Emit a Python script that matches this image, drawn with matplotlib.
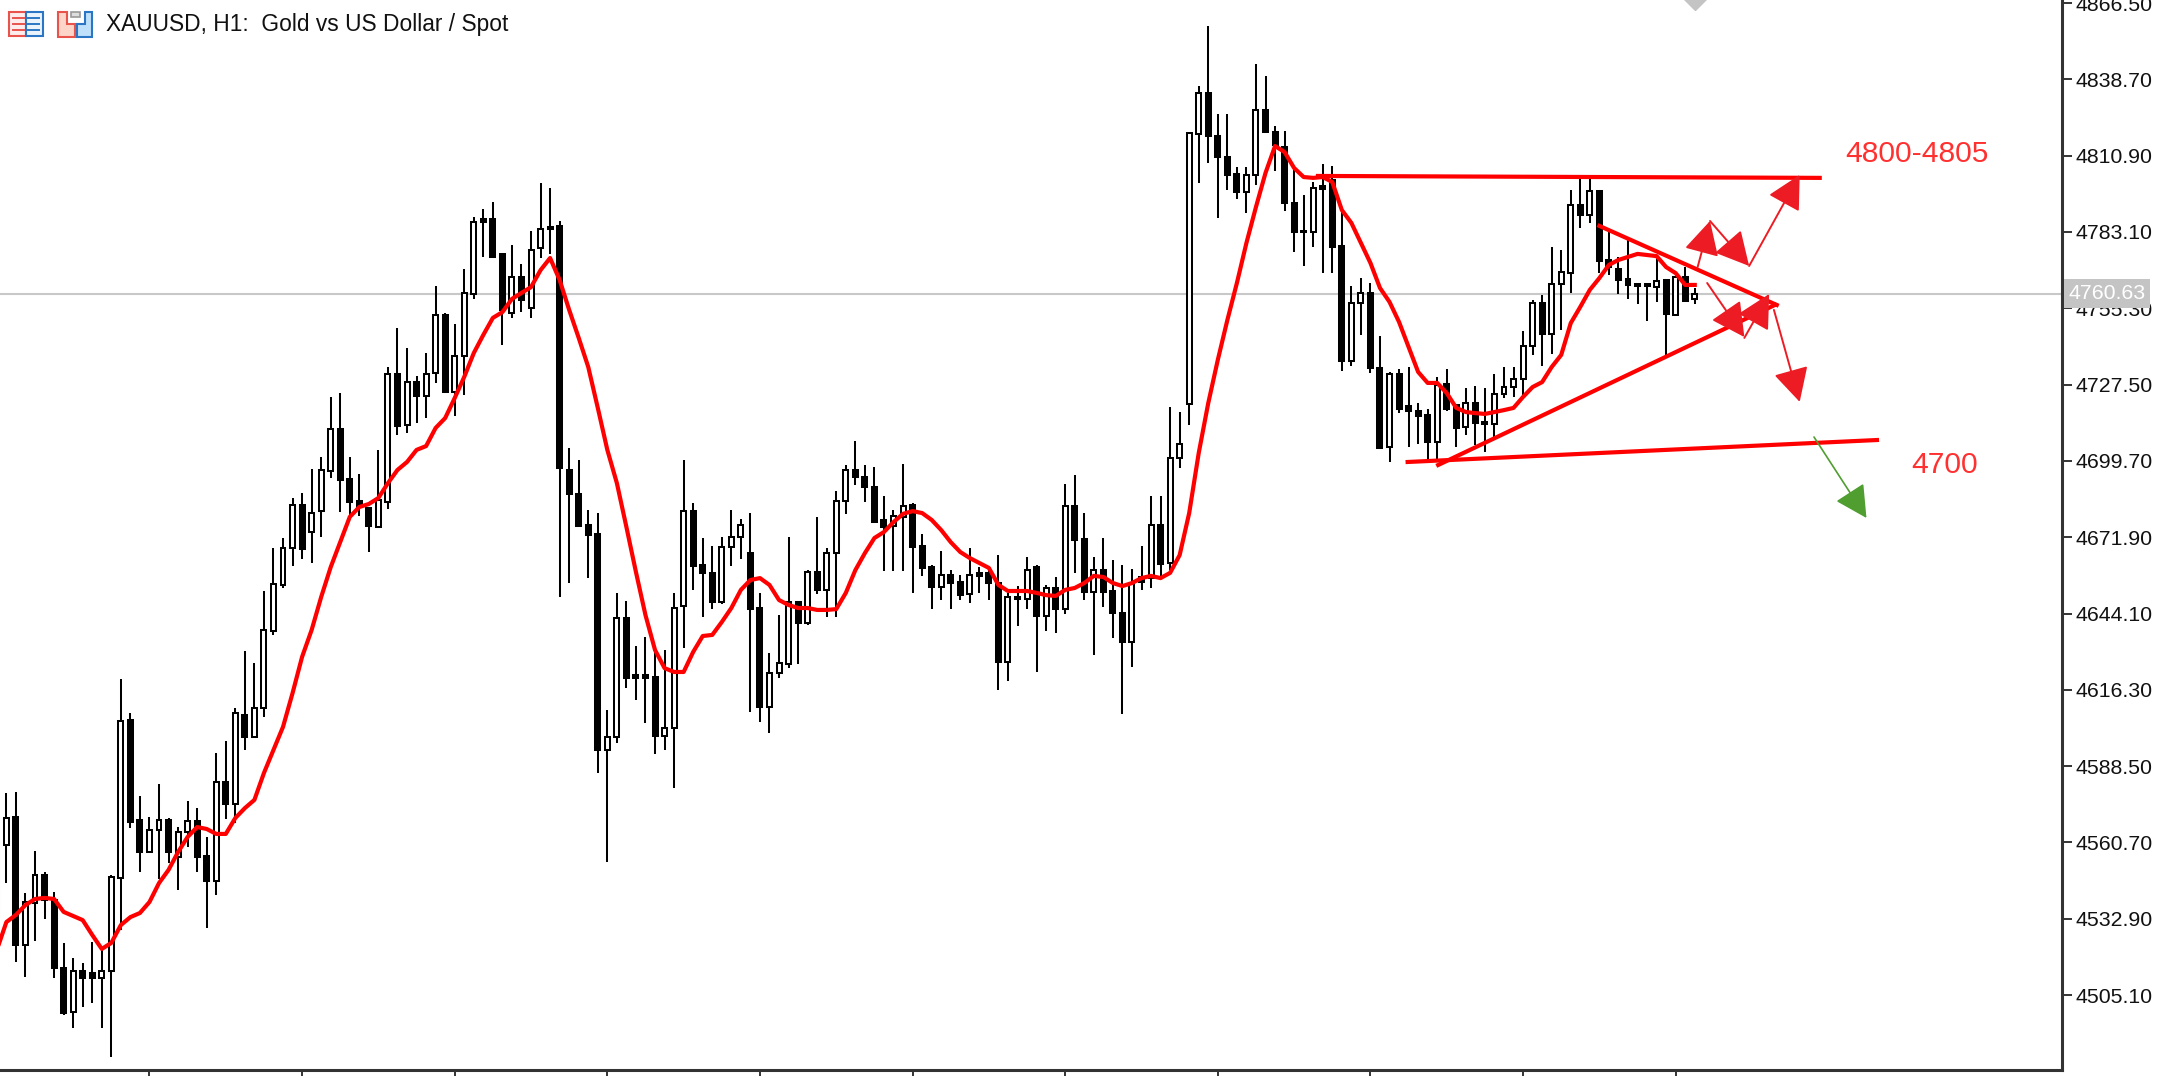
import numpy as np
import matplotlib
matplotlib.use("Agg")
import matplotlib.pyplot as plt
from matplotlib.patches import Rectangle, Polygon

plt.rcParams['font.family'] = ['Liberation Sans', 'DejaVu Sans']

# XAUUSD H1 candles; first candle is mostly past the left edge
opens = [4533.5,
         4559.8, 4570.0, 4523.3, 4538.6, 4548.8, 4539.7, 4515.0, 4499.0, 4513.9, 4513.1,
         4511.3, 4513.9, 4547.7, 4605.3, 4568.9, 4557.2, 4565.2, 4568.9, 4555.4, 4564.5,
         4568.5, 4555.8, 4546.7, 4582.7, 4574.7, 4607.1, 4599.1, 4609.7, 4637.7, 4654.5,
         4668.0, 4683.6, 4673.8, 4681.4, 4696.0, 4711.3, 4693.1, 4685.1, 4682.5, 4675.6,
         4684.7, 4731.4, 4712.8, 4728.4, 4723.3, 4731.7, 4752.8, 4724.8, 4737.9, 4760.5,
         4787.8, 4787.8, 4775.1, 4753.6, 4766.7, 4755.4, 4777.2, 4784.9, 4785.3, 4696.4,
         4687.6, 4676.4, 4673.1, 4594.4, 4599.1, 4642.5, 4621.7, 4621.7, 4620.9, 4599.5,
         4602.4, 4646.8, 4681.4, 4661.8, 4658.9, 4648.3, 4668.3, 4672.0, 4666.1, 4646.1,
         4610.0, 4622.4, 4625.7, 4648.3, 4640.6, 4659.2, 4652.7, 4666.1, 4685.1, 4696.4,
         4693.8, 4690.2, 4678.2, 4676.0, 4679.3, 4683.6, 4668.7, 4661.0, 4653.8, 4658.1,
         4655.6, 4651.2, 4658.9, 4658.9, 4655.2, 4626.4, 4650.1, 4649.4, 4661.0, 4643.2,
         4653.4, 4645.7, 4683.3, 4671.2, 4651.9, 4659.9, 4652.3, 4644.3, 4633.7, 4657.4,
         4657.0, 4676.4, 4662.5, 4700.7, 4720.4, 4818.8, 4833.7, 4818.1, 4810.4, 4804.2,
         4797.7, 4803.9, 4827.5, 4819.5, 4814.0, 4793.6, 4783.4, 4783.1, 4799.8, 4802.0,
         4778.0, 4736.1, 4757.2, 4760.9, 4733.5, 4704.8, 4731.4, 4719.7, 4717.9, 4716.4,
         4706.6, 4727.7, 4720.1, 4712.0, 4720.8, 4713.9, 4713.1, 4724.1, 4726.6, 4729.5,
         4741.6, 4757.2, 4745.9, 4764.1, 4768.1, 4792.9, 4789.3, 4798.0, 4772.9, 4769.6,
         4766.0, 4764.1, 4764.1, 4763.0, 4765.6, 4752.8, 4766.7, 4758.7]

highs = [4560.5,
         4578.7, 4579.1, 4542.3, 4557.6, 4549.9, 4542.6, 4524.1, 4518.6, 4516.8, 4524.4,
         4522.6, 4548.8, 4620.2, 4607.9, 4577.6, 4570.0, 4582.0, 4569.6, 4566.3, 4575.8,
         4573.2, 4562.7, 4593.3, 4597.7, 4609.7, 4630.4, 4626.1, 4652.3, 4668.0, 4671.6,
         4686.2, 4688.0, 4696.7, 4701.1, 4723.0, 4724.4, 4701.1, 4694.9, 4682.5, 4703.7,
         4733.9, 4748.1, 4740.8, 4730.6, 4739.0, 4763.4, 4753.6, 4749.6, 4769.6, 4788.5,
         4791.5, 4794.0, 4775.4, 4778.4, 4771.4, 4783.4, 4800.9, 4799.1, 4787.1, 4704.4,
         4700.0, 4681.8, 4680.7, 4609.0, 4651.6, 4648.7, 4632.3, 4635.6, 4630.8, 4630.8,
         4651.6, 4700.0, 4684.4, 4671.6, 4668.7, 4672.0, 4681.8, 4678.5, 4680.7, 4651.6,
         4629.7, 4643.5, 4672.0, 4648.7, 4659.9, 4679.3, 4668.0, 4688.7, 4698.2, 4706.9,
         4698.2, 4697.5, 4686.9, 4681.8, 4698.6, 4684.4, 4673.1, 4661.8, 4666.9, 4659.9,
         4658.1, 4668.0, 4661.0, 4661.0, 4665.4, 4651.6, 4654.1, 4664.7, 4661.8, 4654.5,
         4657.4, 4691.3, 4694.6, 4680.7, 4664.7, 4671.6, 4663.6, 4661.8, 4660.3, 4668.7,
         4686.9, 4686.9, 4719.3, 4717.5, 4819.5, 4836.3, 4858.1, 4826.1, 4826.1, 4806.8,
         4806.8, 4844.3, 4839.9, 4821.7, 4819.9, 4806.4, 4796.6, 4801.3, 4807.9, 4807.1,
         4791.1, 4763.4, 4766.3, 4764.5, 4745.2, 4732.1, 4733.2, 4733.9, 4720.8, 4718.6,
         4730.3, 4733.2, 4720.1, 4726.3, 4727.0, 4726.3, 4731.4, 4733.9, 4733.9, 4747.0,
         4758.3, 4760.1, 4777.6, 4776.5, 4798.4, 4802.8, 4802.8, 4798.0, 4783.4, 4774.0,
         4780.2, 4764.1, 4764.1, 4773.6, 4766.0, 4767.1, 4770.3, 4762.7]

lows = [4533.2,
        4546.0, 4517.1, 4511.7, 4524.8, 4532.8, 4511.3, 4497.8, 4493.1, 4500.7, 4502.2,
        4493.1, 4482.5, 4528.8, 4566.0, 4549.9, 4556.9, 4547.4, 4553.2, 4543.4, 4559.0,
        4549.9, 4529.5, 4541.5, 4569.2, 4567.8, 4594.4, 4599.1, 4606.4, 4636.3, 4653.4,
        4661.4, 4664.0, 4662.5, 4672.0, 4693.5, 4681.1, 4679.6, 4679.6, 4666.5, 4675.2,
        4682.2, 4709.1, 4709.9, 4713.5, 4715.3, 4728.1, 4724.8, 4716.1, 4723.7, 4758.7,
        4774.0, 4773.6, 4741.9, 4751.8, 4753.9, 4751.8, 4773.6, 4775.1, 4650.1, 4655.2,
        4676.0, 4657.0, 4586.0, 4553.6, 4596.9, 4617.0, 4612.6, 4604.2, 4592.9, 4594.4,
        4580.5, 4631.5, 4652.7, 4642.8, 4645.7, 4647.6, 4661.4, 4664.0, 4608.2, 4604.6,
        4600.6, 4620.6, 4624.3, 4625.7, 4639.9, 4651.2, 4642.8, 4642.8, 4680.4, 4690.9,
        4684.7, 4677.1, 4659.6, 4659.6, 4659.6, 4651.6, 4657.8, 4645.7, 4649.0, 4645.7,
        4649.0, 4647.9, 4651.6, 4649.0, 4616.2, 4619.5, 4639.5, 4645.7, 4622.8, 4637.7,
        4637.0, 4643.9, 4658.9, 4649.0, 4629.0, 4646.5, 4635.2, 4607.5, 4624.6, 4652.7,
        4653.4, 4657.0, 4659.9, 4697.1, 4712.8, 4800.9, 4808.2, 4788.2, 4798.4, 4795.1,
        4790.0, 4800.2, 4819.1, 4805.3, 4790.7, 4775.8, 4770.7, 4777.6, 4768.1, 4768.1,
        4732.4, 4734.3, 4745.6, 4731.7, 4704.0, 4699.3, 4717.1, 4704.8, 4705.9, 4699.3,
        4699.3, 4717.9, 4704.8, 4709.1, 4705.5, 4702.9, 4708.4, 4722.6, 4723.0, 4723.0,
        4738.3, 4734.3, 4738.6, 4747.4, 4760.9, 4784.5, 4786.4, 4768.1, 4767.4, 4760.5,
        4758.7, 4756.9, 4750.7, 4757.6, 4737.5, 4752.5, 4757.6, 4756.9]

closes = [4560.5,
          4569.6, 4523.3, 4539.0, 4548.8, 4539.7, 4515.0, 4498.6, 4513.9, 4511.3, 4511.3,
          4513.9, 4548.1, 4604.9, 4568.2, 4557.2, 4565.2, 4568.9, 4557.2, 4564.5, 4568.5,
          4555.4, 4546.7, 4582.7, 4574.7, 4607.9, 4599.1, 4609.7, 4638.1, 4654.8, 4668.0,
          4683.6, 4667.6, 4680.7, 4696.4, 4711.3, 4692.7, 4684.7, 4682.9, 4676.0, 4685.5,
          4731.4, 4712.4, 4728.4, 4723.3, 4731.4, 4752.8, 4724.8, 4737.9, 4760.9, 4786.7,
          4786.7, 4774.0, 4754.7, 4766.7, 4758.3, 4776.5, 4784.2, 4784.2, 4697.1, 4687.6,
          4676.0, 4672.7, 4594.4, 4599.1, 4642.5, 4620.6, 4620.6, 4620.6, 4599.5, 4602.4,
          4646.1, 4681.4, 4661.4, 4658.9, 4648.3, 4668.3, 4672.0, 4676.4, 4645.7, 4610.0,
          4622.4, 4626.1, 4648.3, 4640.6, 4659.2, 4652.7, 4666.1, 4685.1, 4696.4, 4693.8,
          4690.2, 4677.4, 4675.6, 4679.6, 4683.3, 4668.3, 4660.7, 4653.8, 4658.1, 4655.2,
          4650.8, 4658.1, 4657.8, 4655.2, 4626.4, 4650.1, 4649.4, 4659.9, 4643.2, 4653.4,
          4645.7, 4683.3, 4670.9, 4651.9, 4659.9, 4651.9, 4644.3, 4633.7, 4655.2, 4655.6,
          4676.4, 4662.1, 4700.7, 4705.9, 4819.1, 4833.7, 4818.1, 4810.4, 4803.9, 4797.7,
          4803.9, 4827.5, 4819.5, 4814.8, 4793.6, 4783.1, 4783.1, 4799.1, 4798.7, 4777.6,
          4736.1, 4757.2, 4760.9, 4733.5, 4704.4, 4731.4, 4718.6, 4717.9, 4716.1, 4706.6,
          4727.3, 4718.6, 4711.7, 4720.8, 4713.5, 4713.1, 4724.1, 4726.6, 4729.5, 4741.6,
          4757.2, 4745.9, 4764.1, 4768.5, 4792.9, 4789.3, 4798.0, 4772.5, 4770.3, 4765.6,
          4763.8, 4763.4, 4763.4, 4765.2, 4753.2, 4766.7, 4757.9, 4760.63]

# moving average, same bars as the candles
ma_values = [4521.5, 4531.7, 4534.3, 4537.9, 4540.1, 4540.5, 4540.1, 4535.4, 4533.9, 4532.4,
             4527.0, 4521.9, 4524.1, 4530.6, 4533.5, 4535.0, 4539.0, 4545.9, 4550.7, 4557.2,
             4562.7, 4566.3, 4565.6, 4563.8, 4563.8, 4569.6, 4573.2, 4576.2, 4586.0, 4594.4,
             4602.8, 4615.1, 4628.3, 4638.1, 4650.1, 4661.0, 4670.1, 4679.3, 4682.9, 4684.0,
             4686.2, 4691.6, 4696.4, 4699.3, 4703.7, 4705.1, 4711.7, 4715.3, 4722.6, 4730.3,
             4739.0, 4745.6, 4751.8, 4753.9, 4758.7, 4760.9, 4763.0, 4769.2, 4773.6, 4765.6,
             4754.7, 4744.5, 4733.9, 4719.0, 4703.7, 4691.6, 4675.6, 4659.2, 4643.5, 4630.8,
             4624.2, 4622.8, 4622.8, 4630.1, 4635.9, 4636.3, 4641.0, 4646.1, 4652.7, 4656.3,
             4657.0, 4654.5, 4649.0, 4647.2, 4646.1, 4646.1, 4645.4, 4645.4, 4645.7, 4651.6,
             4659.9, 4666.1, 4671.6, 4673.8, 4677.4, 4680.4, 4681.4, 4680.7, 4678.2, 4674.5,
             4670.1, 4666.5, 4664.3, 4662.5, 4660.7, 4654.5, 4652.3, 4652.3, 4652.3, 4651.6,
             4650.8, 4650.5, 4652.7, 4653.4, 4655.2, 4657.8, 4657.4, 4655.2, 4654.1, 4655.2,
             4657.0, 4657.8, 4657.0, 4658.9, 4665.4, 4680.7, 4702.6, 4720.8, 4736.5, 4751.0,
             4764.5, 4779.1, 4792.2, 4804.6, 4814.4, 4812.2, 4806.4, 4803.1, 4802.8, 4803.1,
             4801.3, 4791.1, 4786.4, 4779.1, 4771.8, 4762.7, 4757.6, 4750.3, 4741.2, 4732.1,
             4728.1, 4728.1, 4724.4, 4719.0, 4717.5, 4717.1, 4716.8, 4717.5, 4718.2, 4719.0,
             4723.0, 4726.6, 4728.4, 4733.9, 4738.3, 4749.9, 4755.8, 4762.0, 4766.3, 4771.1,
             4772.9, 4774.0, 4775.1, 4774.7, 4774.3, 4770.3, 4768.1, 4763.8, 4763.8]

price_ticks = [4866.5, 4838.7, 4810.9, 4783.1, 4755.3, 4727.5, 4699.7,
               4671.9, 4644.1, 4616.3, 4588.5, 4560.7, 4532.9, 4505.1]
time_ticks = [15, 31, 47, 63, 79, 95, 111, 127, 143, 159, 175]
last_price = 4760.63

# drawn objects: (bar, price) pairs
trend_lines = [((137.5, 190.1), (4803.5, 4802.8)),
               ((146.9, 196.1), (4699.3, 4707.3)),
               ((150.1, 185.4), (4698.2, 4756.5)),
               ((167.0, 185.6), (4785.3, 4756.5))]
red_arrows = [((177.3, 4770.3), (178.6, 4787.1)),
              ((178.6, 4787.1), (182.7, 4770.7)),
              ((182.7, 4770.7), (188.0, 4803.9)),
              ((178.3, 4764.5), (182.2, 4744.8)),
              ((182.2, 4744.5), (184.8, 4760.5)),
              ((185.3, 4754.7), (188.0, 4721.2))]
green_arrow = ((189.5, 4708.4), (195.0, 4678.9))
level_labels = ["4800-4805", "4700"]
level_bars = [192.8, 199.7]
level_prices = [4811.5, 4698.3]

fig = plt.figure(figsize=(21.68, 10.76), dpi=100)
ax = fig.add_axes([0, 6 / 1076, 2062 / 2168, 1070 / 1076])
ax.set_xlim(-0.67, 215.5)
ax.set_ylim(4477.8, 4867.6)

opens = np.array(opens)
highs = np.array(highs)
lows = np.array(lows)
closes = np.array(closes)
bars = np.arange(len(opens)) - 1
up = closes >= opens

# candles, wicks under the bodies
ax.vlines(bars, lows, highs, color='black', lw=1.45, zorder=2)
ax.bar(bars[up], (closes - opens)[up], bottom=opens[up], width=0.52,
       facecolor='white', edgecolor='black', lw=1.45, zorder=2.2)
ax.bar(bars[~up], (closes - opens)[~up], bottom=opens[~up], width=0.52,
       facecolor='black', edgecolor='black', lw=1.45, zorder=2.2)

ax.axhline(last_price, color='#c8c8c8', lw=1.5, zorder=1)
ax.plot(bars, ma_values, color='#ff0000', lw=3.0, zorder=3)

for xs, ys in trend_lines:
    ax.plot(xs, ys, color='#ff0000', lw=3.0, zorder=3.2)

for start, tip in red_arrows:
    ax.annotate('', xy=tip, xytext=start, zorder=3.5,
                arrowprops=dict(arrowstyle='-|>,head_length=2.1,head_width=1.1', mutation_scale=10,
                                color='#ed1c24', lw=1.4, shrinkA=0, shrinkB=0))
ax.annotate('', xy=green_arrow[1], xytext=green_arrow[0], zorder=3.5,
            arrowprops=dict(arrowstyle='-|>,head_length=2.0,head_width=1.05', mutation_scale=10,
                            color='#4f9e2f', lw=1.2, shrinkA=0, shrinkB=0))

# level texts
for label, bar, price in zip(level_labels, level_bars, level_prices):
    ax.text(bar, price, label, color='#ff3030', fontsize=21.6, ha='left', va='center')

# alert marker cut by the top edge
ax.plot([177], [4868.3], marker='D', ms=12, color='#c4c4c4', zorder=2.5)

ax.yaxis.tick_right()
ax.set_yticks(price_ticks)
ax.set_yticklabels([f"{p:.2f}" for p in price_ticks], fontsize=15.3, color='#111111')
ax.set_xticks(time_ticks)
ax.set_xticklabels([])
ax.tick_params(axis='y', length=7.2, width=1.4, pad=2.2, color='#333333')
ax.tick_params(axis='x', length=4.5, width=1.4, color='#333333')
for side in ['left', 'top']:
    ax.spines[side].set_visible(False)
for side in ['right', 'bottom']:
    ax.spines[side].set_linewidth(2.2)
    ax.spines[side].set_color('#333333')

# last price tag over the scale
ax.text(1.0032, last_price, f"{last_price:.2f}", transform=ax.get_yaxis_transform(),
        ha='left', va='center', fontsize=15.3, color='white', zorder=5, clip_on=False,
        bbox=dict(boxstyle='square,pad=0.22', facecolor='#c4c4c4', edgecolor='none'))

# header icons + symbol text, laid out in screen pixels
top = fig.add_axes([0, 0, 1, 1], facecolor='none')
top.set_xlim(0, 2168)
top.set_ylim(1076, 0)
top.axis('off')
top.text(106, 25, "XAUUSD, H1:  Gold vs US Dollar / Spot", fontsize=16.4, color='#111111',
         ha='left', va='center')

top.add_patch(Rectangle((9, 12), 17, 24, facecolor='#fdecec', edgecolor='#e8544c', lw=1.5))
top.add_patch(Rectangle((26, 12), 17, 24, facecolor='#eaf3fc', edgecolor='#2a76c4', lw=1.5))
for y in (18, 24, 30):
    top.plot([13, 24], [y, y], color='#e8544c', lw=1.4)
    top.plot([28, 39], [y, y], color='#2a76c4', lw=1.4)

top.add_patch(Polygon([(58, 12), (67, 12), (67, 24), (75, 24), (75, 37), (58, 37)],
                      facecolor='#fdd5c8', edgecolor='#e8544c', lw=1.5))
top.add_patch(Polygon([(85, 12), (92, 12), (92, 37), (77, 37), (77, 24), (85, 24)],
                      facecolor='#bfe0fb', edgecolor='#2a76c4', lw=1.5))
top.add_patch(Rectangle((71, 12), 9, 5, facecolor='#dddddd', edgecolor='#999999', lw=1.2))

fig.savefig("out.png", dpi=100)
